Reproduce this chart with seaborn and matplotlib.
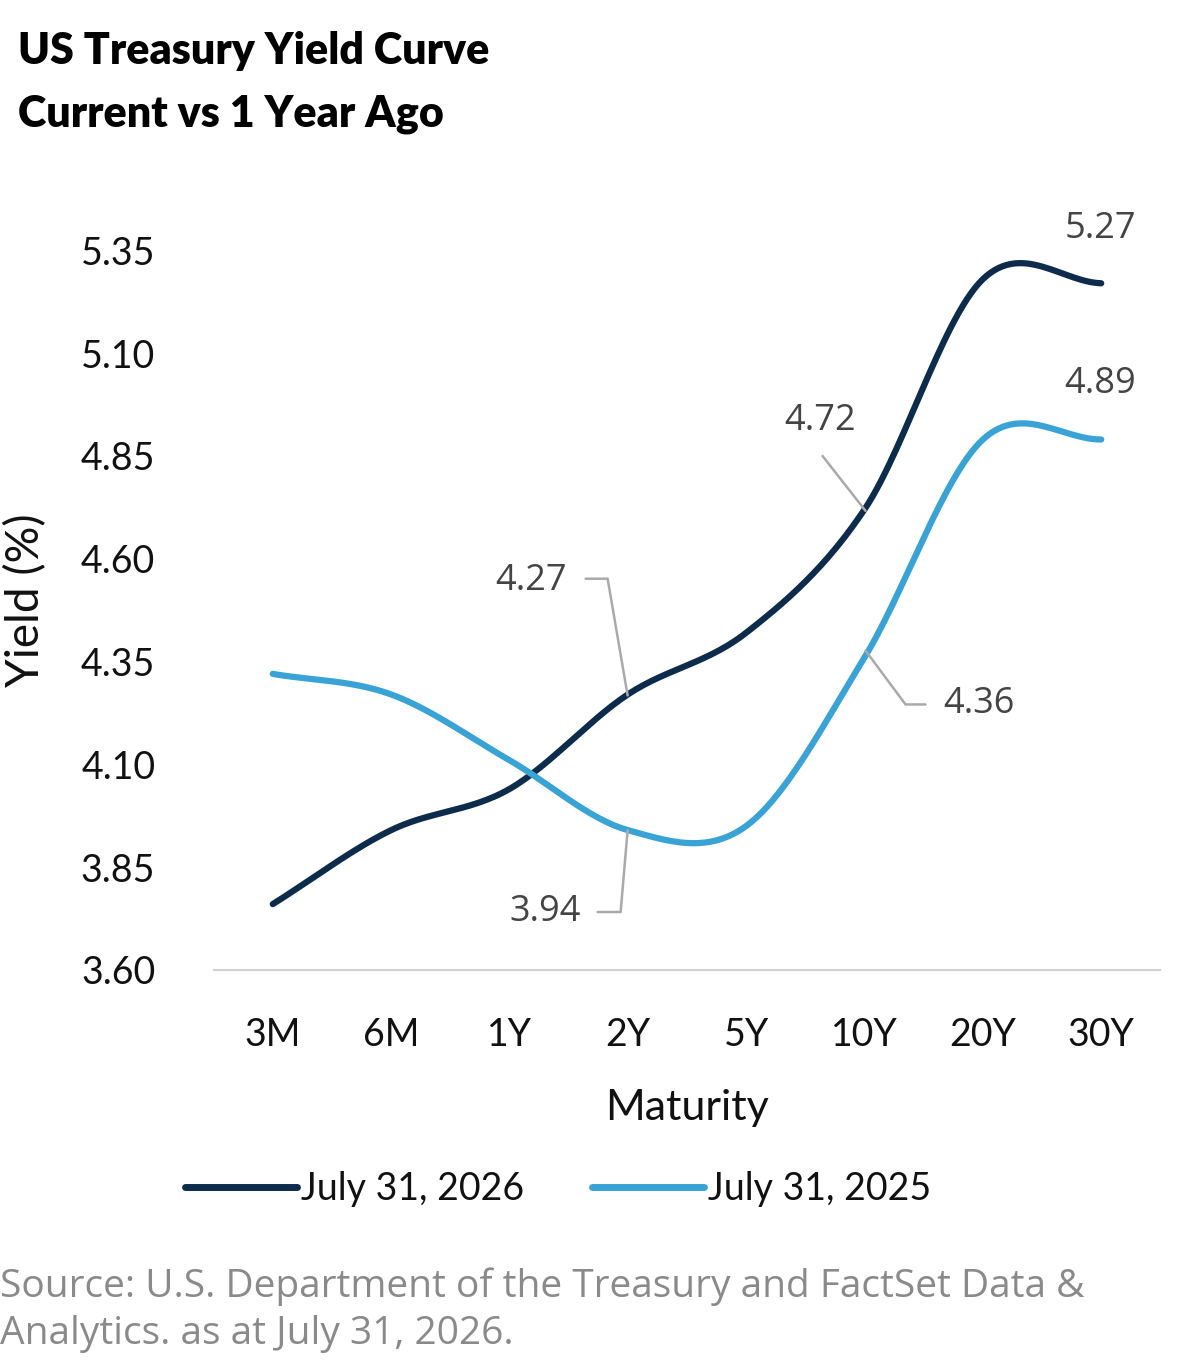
import numpy as np
import matplotlib.pyplot as plt
import seaborn as sns
import pandas as pd

maturities = ['3M', '6M', '1Y', '2Y', '5Y', '10Y', '20Y', '30Y']
yield_2026 = [3.76, 3.94, 4.04, 4.27, 4.42, 4.72, 5.28, 5.27]
yield_2025 = [4.32, 4.27, 4.11, 3.94, 3.95, 4.36, 4.89, 4.89]
series_names = ['July 31, 2026', 'July 31, 2025']
colors = ['#0d2b4a', '#3aa3d6']


def smooth(y, n=30):
    # cubic hermite (catmull-rom) through the points, for the smooth look
    y = np.asarray(y, float)
    x = np.arange(len(y))
    m = np.gradient(y)
    xs, ys = [], []
    for i in range(len(y) - 1):
        t = np.linspace(0, 1, n, endpoint=False)
        h00 = 2*t**3 - 3*t**2 + 1
        h10 = t**3 - 2*t**2 + t
        h01 = -2*t**3 + 3*t**2
        h11 = t**3 - t**2
        xs.append(x[i] + t)
        ys.append(h00*y[i] + h10*m[i] + h01*y[i+1] + h11*m[i+1])
    xs.append([x[-1]]); ys.append([y[-1]])
    return np.concatenate(xs), np.concatenate(ys)


frames = []
for name, vals in zip(series_names, [yield_2026, yield_2025]):
    xs, ys = smooth(vals)
    frames.append(pd.DataFrame({'x': xs, 'y': ys, 'series': name}))
df = pd.concat(frames)

sns.set_theme(style='white')
plt.rcParams['font.family'] = ['Lato', 'DejaVu Sans']
plt.rcParams['text.color'] = '#111111'

fig = plt.figure(figsize=(12, 13.68), dpi=100)
ax = fig.add_axes([0.178, 0.291, 0.789, 0.541])
sns.lineplot(data=df, x='x', y='y', hue='series', palette=colors,
             linewidth=4.5, ax=ax, legend=False, sort=False)

ax.set_xlim(-0.5, 7.5)
ax.set_ylim(3.60, 5.40)
ax.set_yticks([3.60, 3.85, 4.10, 4.35, 4.60, 4.85, 5.10, 5.35])
ax.set_yticklabels([f'{v:.2f}' for v in ax.get_yticks()], fontsize=27, color='#111111')
ax.set_xticks(range(len(maturities)))
ax.set_xticklabels(maturities, fontsize=27, color='#111111')
ax.tick_params(axis='x', pad=34, length=0)
ax.tick_params(axis='y', pad=42, length=0)
for s in ['top', 'right', 'left']:
    ax.spines[s].set_visible(False)
ax.spines['bottom'].set_color('#d0d0d0')
ax.spines['bottom'].set_linewidth(1.5)
ax.set_xlabel('Maturity', fontsize=31, labelpad=26, color='#111111')
ax.set_ylabel('Yield (%)', fontsize=33, labelpad=24, color='#111111')


def px(xp, yp):
    return (xp - 272) / 118.4, 3.60 + (970 - yp) / 412.0


ann = dict(fontsize=26, color='#444444', family=['Open Sans', 'DejaVu Sans'])
lc = dict(color='#aaaaaa', lw=1.8)
# 4.27
ax.text(*px(530, 580), '4.27', ha='center', va='center', **ann)
pts = [px(585, 578), px(607, 578), px(627, 695)]
ax.plot([p[0] for p in pts], [p[1] for p in pts], **lc)
# 4.72
ax.text(*px(820, 420), '4.72', ha='center', va='center', **ann)
pts = [px(822, 455), px(865, 510)]
ax.plot([p[0] for p in pts], [p[1] for p in pts], **lc)
# 4.36
ax.text(*px(978, 704), '4.36', ha='center', va='center', **ann)
pts = [px(865, 650), px(905, 704), px(925, 704)]
ax.plot([p[0] for p in pts], [p[1] for p in pts], **lc)
# 3.94
ax.text(*px(545, 912), '3.94', ha='center', va='center', **ann)
pts = [px(597, 912), px(620, 912), px(627, 830)]
ax.plot([p[0] for p in pts], [p[1] for p in pts], **lc)
# end labels
ax.text(*px(1100, 228), '5.27', ha='center', va='center', **ann)
ax.text(*px(1100, 383), '4.89', ha='center', va='center', **ann)

fig.text(0.015, 0.963, 'US Treasury Yield Curve', fontsize=31, fontweight='heavy',
         va='center', color='black')
fig.text(0.015, 0.917, 'Current vs 1 Year Ago', fontsize=31, fontweight='heavy',
         va='center', color='black')

handles = [plt.Line2D([], [], color=c, lw=5) for c in colors]
fig.legend(handles, series_names, loc='center', bbox_to_anchor=(0.465, 0.131),
           ncol=2, frameon=False, fontsize=27, handlelength=3.0,
           handletextpad=0.1, columnspacing=1.8)

fig.text(0.0, 0.042, 'Source: U.S. Department of the Treasury and FactSet Data &\nAnalytics. as at July 31, 2026.',
         fontsize=28, color='#8a8a8a', va='center', linespacing=1.3,
         family=['Open Sans', 'DejaVu Sans'])

fig.savefig('out.png', dpi=100)
